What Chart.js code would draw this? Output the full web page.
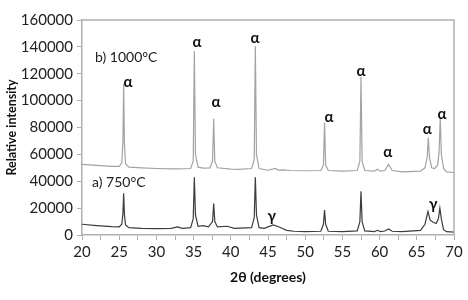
<!DOCTYPE html>
<html><head><meta charset="utf-8">
<script src="https://cdn.jsdelivr.net/npm/chart.js@4/dist/chart.umd.min.js"></script>
<style>html,body{margin:0;padding:0;background:#fff}#wrap{width:468px;height:300px}</style>
</head><body><div id="wrap"><canvas id="c" width="468" height="300"></canvas></div>
<script>
// 1000 °C pattern (offset upward)
const twoTheta1000 = [20,22,24,25.0,25.35,25.5,25.6,25.7,25.85,26.3,28,30,32,33,34.6,34.95,35.1,35.25,35.6,36.3,37.2,37.55,37.7,37.85,38.2,40,41,42.8,43.15,43.3,43.45,43.8,45,46.0,46.4,47.0,48,50,52.1,52.45,52.6,52.75,53.1,55,57.0,57.35,57.5,57.65,58.0,59.3,59.7,60.1,60.7,61.2,61.7,63,65.5,66.1,66.4,66.55,66.7,67.0,67.4,67.8,68.0,68.15,68.3,68.6,69.0,70];
const intensity1000 = [52500,51800,51000,51000,53500,70000,112500,68000,53000,50500,50000,49500,49200,49200,49500,55000,137000,60000,50500,49800,50000,55000,86500,55000,50000,49000,48800,49500,56000,140500,60000,49500,48200,49500,48300,48500,48000,47800,48000,52000,83500,52000,48000,47500,48000,55000,117500,55000,48000,47500,49000,47500,48000,52500,48000,47000,47500,50000,58000,72500,58000,50000,49500,52000,62000,86500,60000,49500,47000,46500];
// 750 °C pattern
const twoTheta750 = [20,22,24,25.0,25.35,25.5,25.6,25.7,25.85,26.3,28,30,32,32.8,33.5,34.6,34.95,35.1,35.25,35.6,36.3,37.0,37.55,37.7,37.85,38.2,39.5,40.5,42.8,43.15,43.3,43.45,43.8,44.5,45.7,46.5,47.5,48.5,50,52.1,52.45,52.6,52.75,53.1,55,57.0,57.35,57.5,57.65,58.0,59.3,59.7,60.1,60.7,61.2,61.7,63,65.5,66.1,66.5,66.8,67.2,67.6,67.9,68.1,68.3,68.6,69.0,70];
const intensity750 = [8000,7000,6200,6000,8000,16000,31000,15000,7500,5500,5000,4800,5000,6000,5000,5500,12000,43000,15000,6500,7000,6000,10000,23500,10000,6000,6500,5000,5500,13000,43000,15000,5500,5000,7500,6000,3500,2800,2500,2800,8000,18500,8000,2800,2500,3000,10000,32500,10000,3000,2500,3500,2500,3000,4500,2800,2500,3500,8000,17500,11000,9500,8500,12000,20000,12000,4000,2500,2200];
// phase labels: text, 2θ, intensity
const phaseText = ["α","α","α","α","α","α","α","α","α","γ","γ"];
const phaseX = [26.2,35.45,38.0,43.25,53.2,57.5,61.1,66.4,68.4,45.5,67.2];
const phaseY = [114000,143700,98500,146700,88000,122000,61500,79000,90000,14000,23000];
// sample labels
const sampleText = ["b) 1000°C","a) 750°C"];
const sampleX = [21.75,21.35];
const sampleY = [131800,39000];
const xTicks = {min:20,max:70,step:2.5,labelStep:5};
const yTicks = {min:0,max:160000,step:20000};

const toXY = (xs,ys)=>xs.map((x,i)=>({x:x,y:ys[i]}));

const labelPlugin = {
  id:'labels',
  afterDatasetsDraw(chart){
    const {ctx, chartArea:a, scales:{x,y}} = chart;
    ctx.save();
    ctx.strokeStyle='#b0b0b0'; ctx.lineWidth=1.5;
    ctx.beginPath();
    ctx.moveTo(a.left,a.top); ctx.lineTo(a.right,a.top); ctx.lineTo(a.right,a.bottom);
    ctx.stroke();
    ctx.fillStyle='#111';
    ctx.textAlign='center'; ctx.textBaseline='middle';
    ctx.font='bold 15px Lato';
    phaseText.forEach((t,i)=>ctx.fillText(t, x.getPixelForValue(phaseX[i]), y.getPixelForValue(phaseY[i])));
    ctx.textAlign='left';
    ctx.font='14px Lato'; ctx.fillStyle='#222';
    sampleText.forEach((t,i)=>ctx.fillText(t, x.getPixelForValue(sampleX[i]), y.getPixelForValue(sampleY[i])));
    ctx.restore();
  }
};

new Chart(document.getElementById('c'),{
  type:'line',
  data:{datasets:[
    {data:toXY(twoTheta1000,intensity1000),borderColor:'#a3a3a3',borderWidth:1.2,pointRadius:0,tension:0,fill:false},
    {data:toXY(twoTheta750,intensity750),borderColor:'#3c3c3c',borderWidth:1.2,pointRadius:0,tension:0,fill:false}
  ]},
  options:{
    responsive:false,animation:false,
    layout:{padding:{top:20,right:14,left:0,bottom:0}},
    plugins:{legend:{display:false},tooltip:{enabled:false}},
    scales:{
      x:{type:'linear',min:xTicks.min,max:xTicks.max,
        border:{color:'#b0b0b0',width:1.5},
        grid:{drawOnChartArea:false,color:'#b0b0b0',tickLength:5,lineWidth:1},
        ticks:{stepSize:xTicks.step,autoSkip:false,maxRotation:0,padding:3,color:'#222',font:{family:'Lato',size:15},
          callback:(v)=> (v % xTicks.labelStep===0)? String(v):''},
        title:{display:true,text:'2θ (degrees)',color:'#111',font:{family:'Lato',size:14,weight:'bold'},padding:{top:2,bottom:14}},
        afterFit:(s)=>{s.height=65;}
      },
      y:{min:yTicks.min,max:yTicks.max,
        border:{color:'#b0b0b0',width:1.5},
        grid:{drawOnChartArea:false,color:'#b0b0b0',tickLength:5,lineWidth:1},
        ticks:{stepSize:yTicks.step,padding:4,color:'#222',font:{family:'Lato',size:15},callback:(v)=>String(v)},
        title:{display:true,text:'Relative intensity',color:'#111',font:{family:'Lato',size:12.5,weight:'bold'},padding:{top:4,bottom:2}},
        afterFit:(s)=>{s.width=82;}
      }
    }
  },
  plugins:[labelPlugin]
});
</script></body></html>
